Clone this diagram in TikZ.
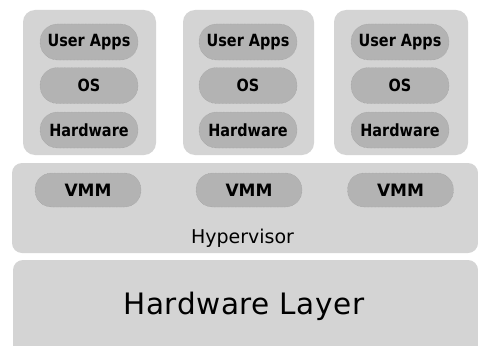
\documentclass[tikz,border=0pt]{standalone}
\usepackage{fontspec}
\setmainfont{DejaVu Sans}
\newfontfamily\pillfont{DejaVu Sans}[FakeStretch=0.86]
\definecolor{boxgray}{HTML}{D4D4D4}
\definecolor{pillgray}{HTML}{B3B3B3}
\definecolor{pilledge}{HTML}{989898}
\tikzset{
  vmbox/.style={rectangle, fill=boxgray, rounded corners=12pt, inner sep=0pt},
  layerbox/.style={rectangle, fill=boxgray, rounded corners=10pt, inner sep=0pt},
  pill/.style={rectangle, fill=pillgray, draw=pilledge, densely dotted, line width=0.4pt,
    rounded corners=17.5pt, minimum width=98pt, minimum height=36pt, inner sep=0pt,
    font=\pillfont\bfseries\fontsize{16.8}{18}\selectfont},
  vmmpill/.style={rectangle, fill=pillgray, draw=pilledge, densely dotted, line width=0.4pt,
    rounded corners=16.5pt, minimum width=106pt, minimum height=34pt, inner sep=0pt,
    font=\bfseries\fontsize{17}{19}\selectfont},
}
\begin{document}
\begin{tikzpicture}[x=1pt,y=-1pt]
\clip (0,0) rectangle (478,345);
\fill[white] (0,0) rectangle (478,345);
% virtual machine boxes
\node[vmbox, minimum width=133pt, minimum height=145pt] (vm1) at (89.5,82.5) {};
\node[vmbox, minimum width=131pt, minimum height=145pt] (vm2) at (248.5,82.5) {};
\node[vmbox, minimum width=134pt, minimum height=145pt] (vm3) at (401,82.5) {};
% pills
\node[pill] (apps1) at (89,42) {User Apps};
\node[pill] (os1) at (89,85.5) {OS};
\node[pill] (hw1) at (89,130) {Hardware};
\node[pill] (apps2) at (248,42) {User Apps};
\node[pill] (os2) at (248,85.5) {OS};
\node[pill] (hw2) at (248,130) {Hardware};
\node[pill] (apps3) at (400,42) {User Apps};
\node[pill] (os3) at (400,85.5) {OS};
\node[pill] (hw3) at (400,130) {Hardware};
% hypervisor layer
\node[layerbox, minimum width=466pt, minimum height=90pt] (hyp) at (245,208) {};
\node[vmmpill] (vmm1) at (88,190) {VMM};
\node[vmmpill] (vmm2) at (249,190) {VMM};
\node[vmmpill] (vmm3) at (400.5,190) {VMM};
\node[anchor=base, inner sep=0pt, font=\fontsize{19}{21}\selectfont] (hyptext) at (242.5,243.3) {Hypervisor};
% hardware layer
\node[layerbox, minimum width=465pt, minimum height=110pt] (hwl) at (245.5,315) {};
\node[anchor=base, inner sep=0pt, font=\fontsize{29.5}{32}\selectfont\addfontfeature{LetterSpace=2}] (hwtext) at (244,314) {Hardware Layer};
\end{tikzpicture}
\end{document}
